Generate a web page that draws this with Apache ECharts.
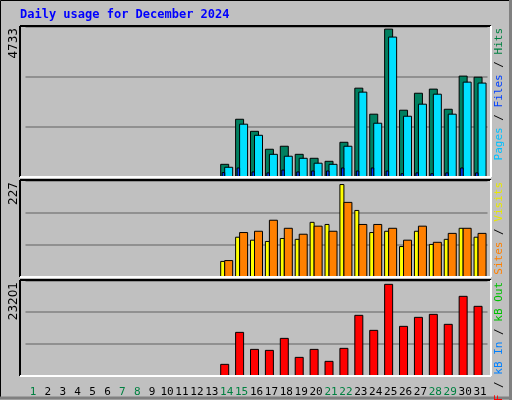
<!DOCTYPE html>
<html><head><meta charset="utf-8">
<script src="https://cdn.jsdelivr.net/npm/echarts@6/dist/echarts.min.js"></script>
<style>html,body{margin:0;padding:0;background:#c0c0c0}#c{width:512px;height:400px}</style>
</head><body><div id="c"></div>
<script>
const days = Array.from({length:31},(_, i)=>String(i+1));
const weekend = [1,7,8,14,15,21,22,28,29];
const hits  = [0,0,0,0,0,0,0,0,0,0,0,0,0,390,1810,1430,865,960,705,580,485,1085,2790,1970,4650,2095,2630,2760,2125,3170,3135];
const files = [0,0,0,0,0,0,0,0,0,0,0,0,0,297,1655,1305,705,645,580,425,390,960,2665,1685,4400,1905,2285,2600,1970,2980,2950];
const pages = [0,0,0,0,0,0,0,0,0,0,0,0,0,130,275,150,120,210,150,180,180,275,180,275,180,95,120,95,120,275,120];
const visits= [0,0,0,0,0,0,0,0,0,0,0,0,0,36,93,86,83,90,88,128,123,217,156,104,107,71,107,76,88,114,93];
const sites = [0,0,0,0,0,0,0,0,0,0,0,0,0,38,104,107,133,114,100,119,107,175,123,123,114,86,119,81,102,114,102];
const kbytes= [0,0,0,0,0,0,0,0,0,0,0,0,0,2760,10540,6400,6160,9080,4460,6400,3490,6650,14680,11030,22220,12000,14190,14920,12490,19300,16870];
const maxHits = 4733, maxVisits = 227, maxKB = 23201;

const chart = echarts.init(document.getElementById('c'));
const grids = [
  {left:25.5,right:24.5,top:26.5,height:150.2},
  {left:25.5,right:24.5,top:180.3,height:96.4},
  {left:25.5,right:24.5,top:280.3,height:95.4}
];
function xAx(i, show){
  return {type:'category', gridIndex:i, data:days, boundaryGap:true,
    axisLine:{show:false}, axisTick:{show:false}, splitLine:{show:false},
    axisLabel:{show:show, margin:11, fontFamily:'DejaVu Sans Mono', fontSize:11, interval:0,
      color:(v)=>weekend.includes(+v)?'#008040':'#000000'}};
}
function yAx(i,max){
  return {type:'value', gridIndex:i, min:0, max:max, interval:max/3,
    axisLabel:{show:false}, axisLine:{show:false}, axisTick:{show:false},
    splitLine:{lineStyle:{color:'#808080',width:1.5}}};
}
function barSeries(i, data, color, x0, x1, z){
  return {type:'custom', xAxisIndex:i, yAxisIndex:i, z:z,
    data:data.map((v,k)=>[k,v]),
    renderItem:(params, api)=>{
      const v = api.value(1); if(!v) return null;
      const top = api.coord([api.value(0), v]);
      const base = api.coord([api.value(0), 0]);
      return {type:'rect', shape:{x:top[0]+x0, y:top[1], width:x1-x0, height:base[1]-top[1]},
        style:{fill:color, stroke:'#000', lineWidth:1}};
    }};
}
function vtext(x,y,parts){
  return {type:'text', x:x, y:y, rotation:Math.PI/2, z:30,
    style:{text:parts, rich:rich, fontFamily:'DejaVu Sans Mono', fontSize:11, align:'right', verticalAlign:'middle'}};
}
const F = {fontFamily:'DejaVu Sans Mono',fontSize:11};
const rich = {
  a:{fill:'#00c0ff',...F}, s:{fill:'#000',...F}, b:{fill:'#0040ff',...F}, c:{fill:'#008040',...F},
  o:{fill:'#ff8000',...F}, y:{fill:'#e8e800',...F}, r:{fill:'#ff0000',...F}, i:{fill:'#0080ff',...F}, g:{fill:'#00c000',...F}
};
function frame(y,h){
  return [{type:'line',shape:{x1:20,y1:y,x2:491,y2:y},style:{stroke:'#000',lineWidth:2},z:20},
          {type:'line',shape:{x1:20,y1:y,x2:20,y2:y+h},style:{stroke:'#000',lineWidth:2},z:20},
          {type:'line',shape:{x1:20,y1:y+h,x2:491,y2:y+h},style:{stroke:'#fff',lineWidth:2},z:20},
          {type:'line',shape:{x1:491,y1:y,x2:491,y2:y+h},style:{stroke:'#fff',lineWidth:2},z:20}];
}
function ylab(x,y,t){
  return {type:'text', x:x, y:y, rotation:Math.PI/2,
    style:{text:t, fontFamily:'DejaVu Sans', fontSize:12, fill:'#000', align:'right', verticalAlign:'middle'}};
}
chart.setOption({
  backgroundColor:'#c0c0c0', animation:false,
  grid:grids,
  xAxis:[xAx(0,false),xAx(1,false),xAx(2,true)],
  yAxis:[yAx(0,maxHits),yAx(1,maxVisits),yAx(2,maxKB)],
  series:[
    barSeries(0,hits,'#008060',-6,2,10),
    barSeries(0,files,'#00e0ff',-2,6,11),
    barSeries(0,pages,'#0040ff',-4.5,-2,12),
    barSeries(1,visits,'#ffff00',-6,-2,10),
    barSeries(1,sites,'#ff8000',-2,6,11),
    barSeries(2,kbytes,'#ff0000',-6,2,10)
  ],
  graphic:[
    {type:'rect',shape:{x:0.5,y:0.5,width:509,height:397},style:{fill:null,stroke:'#000',lineWidth:1},z:1},
    {type:'line',shape:{x1:0,y1:398,x2:512,y2:398},style:{stroke:'#808080',lineWidth:3},z:1},
    {type:'line',shape:{x1:510.5,y1:0,x2:510.5,y2:400},style:{stroke:'#808080',lineWidth:3},z:1},
    {type:'text',x:20,y:15,style:{text:'Daily usage for December 2024',fontFamily:'DejaVu Sans Mono',fontWeight:'bold',fontSize:12,fill:'#0000ff',verticalAlign:'middle'}},
    ...frame(26,151),...frame(180,97),...frame(280,96),
    ylab(14,28,'4733'), ylab(14,182,'227'), ylab(14,282,'23201'),
    vtext(499,28,'{a|Pages}{s| / }{b|Files}{s| / }{c|Hits}'),
    vtext(499,182,'{o|Sites}{s| / }{y|Visits}'),
    vtext(499,282,'{r|kB F}{s| / }{i|kB In}{s| / }{g|kB Out}')
  ]
});
</script></body></html>
